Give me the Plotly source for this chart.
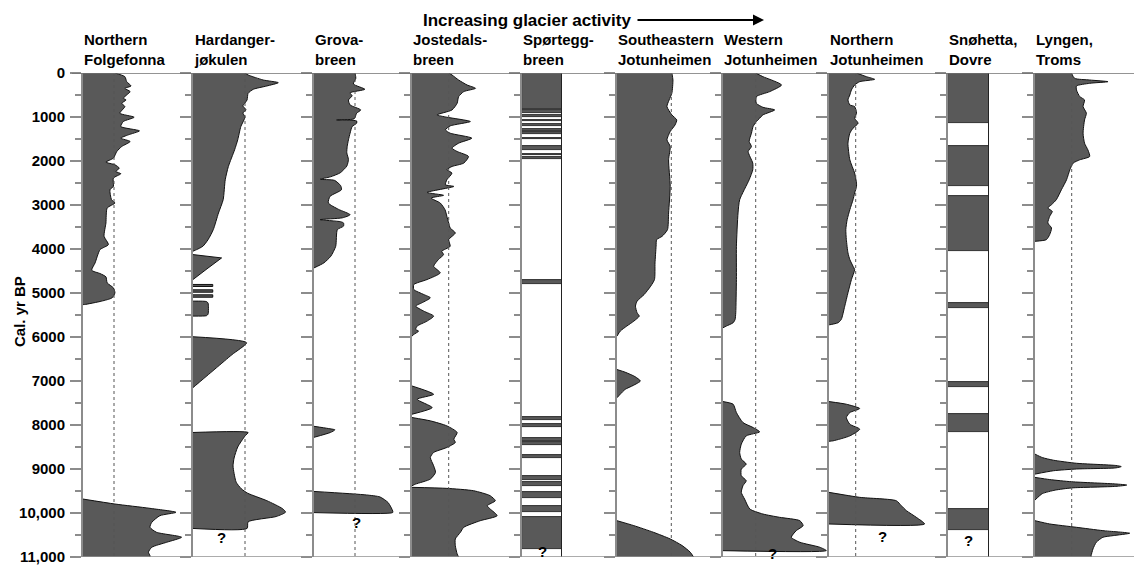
import plotly.graph_objects as go

# ---------------- data ----------------
tick_years = [0, 1000, 2000, 3000, 4000, 5000, 6000, 7000, 8000, 9000, 10000, 11000]
tick_text = ["0", "1000", "2000", "3000", "4000", "5000", "6000", "7000", "8000", "9000", "10,000", "11,000"]
minor_years = [500, 1500, 2500, 3500, 4500, 5500, 6500, 7500, 8500, 9500, 10500]

titles = ["Northern<br>Folgefonna", "Hardanger-<br>jøkulen", "Grova-<br>breen", "Jostedals-<br>breen",
          "Spørtegg-<br>breen", "Southeastern<br>Jotunheimen", "Western<br>Jotunheimen",
          "Northern<br>Jotunheimen", "Snøhetta,<br>Dovre", "Lyngen,<br>Troms"]

# glacier-activity curves (value 1 = dotted reference line); None separates blocks
folgefonna_yr = [0, 83, 197, 295, 348, 423, 499, 574, 612, 688, 763, 914, 1005, 1103, 1217, 1315, 1406, 1481, 1557, 1670,
                 1784, 1935, 2025, 2086, 2162, 2238, 2290, 2388, 2578, 2653, 2880, 2955, 3068, 3408, 3712, 3900, 4014, 4316, 4483, 4558,
                 4633, 4769, 4883, 4996, 5109, 5185, 5262, 5263, None,
                 9683, 9796, 9894, 9985, 10061, 10211, 10324, 10438, 10551, 10665, 10778, 10891, 10966, 11000]
folgefonna_val = [1.03, 1.35, 1.41, 1.55, 1.35, 1.52, 1.41, 1.30, 1.39, 1.25, 1.35, 1.19, 1.65, 1.30, 1.22, 1.82, 1.46, 1.22, 1.52, 1.25,
                  1.09, 0.98, 0.74, 1.03, 1.17, 1.06, 1.22, 0.98, 0.98, 0.87, 0.92, 1.03, 0.78, 0.74, 0.68, 0.82, 0.55, 0.39, 0.28, 0.55,
                  0.74, 0.78, 0.98, 1.03, 0.94, 0.60, 0.05, 0, None,
                  0, 1.03, 2.16, 3.0, 2.48, 2.22, 2.16, 2.37, 3.18, 2.70, 2.22, 2.11, 2.16, 2.16]

hardanger_yr = [0, 45, 159, 220, 295, 370, 461, 612, 680, 748, 839, 907, 998, 1066, 1218, 1519, 1746, 2125, 2426, 2880,
                3182, 3560, 3787, 3938, 4014, 4050, None,
                4127, 4203, 4450, 4694, None,
                4806, 4806, 4852, 4852, None,
                4927, 4927, 4982, 4982, None,
                5041, 5041, 5096, 5096, None,
                5185, 5195, 5230, 5480, 5515, 5525, None,
                5994, 6130, 6400, 6700, 7000, 7150, None,
                8170, 8171, 8250, 8500, 8750, 8930, 9100, 9300, 9450, 9550, 9720, 9900, 9980, 10080, 10200, 10350, 10351]
hardanger_val = [1.0, 1.06, 1.35, 1.64, 1.42, 1.16, 1.06, 1.04, 1.0, 0.96, 1.02, 0.96, 1.0, 0.98, 0.92, 0.86, 0.80, 0.68, 0.62, 0.58,
                 0.49, 0.39, 0.29, 0.19, 0.07, 0, None,
                 0, 0.55, 0.27, 0, None,
                 0, 0.38, 0.38, 0, None,
                 0, 0.38, 0.38, 0, None,
                 0, 0.38, 0.38, 0, None,
                 0, 0.26, 0.29, 0.29, 0.26, 0, None,
                 0, 1.03, 0.75, 0.45, 0.15, 0, None,
                 0, 1.06, 1.0, 0.86, 0.79, 0.77, 0.79, 0.83, 0.93, 1.05, 1.42, 1.72, 1.78, 1.6, 1.06, 1.04, 0]

grova_yr = [0, 120, 250, 370, 450, 520, 612, 726, 839, 914, 1040, 1066, 1090, 1141, 1217, 1368, 1519, 1670, 1814, 1965,
            2116, 2268, 2360, 2415, 2440, 2560, 2653, 2804, 2955, 3100, 3220, 3290, 3333, 3380, 3408, 3480, 3560, 3938, 4164, 4316,
            4429, None,
            8030, 8080, 8110, 8170, 8280, None,
            9510, 9590, 9636, 9765, 9954, 9990, 9991]
grova_val = [1.0, 1.02, 0.96, 1.24, 0.88, 0.93, 0.84, 0.88, 1.14, 1.04, 0.98, 0.55, 1.04, 1.04, 0.93, 0.88, 0.84, 0.81, 0.80, 0.84,
             0.80, 0.64, 0.40, 0.15, 0.5, 0.65, 0.67, 0.39, 0.35, 0.6, 0.88, 0.7, 0.15, 0.65, 0.72, 0.72, 0.57, 0.53, 0.41, 0.24,
             0, None,
             0, 0.35, 0.51, 0.4, 0, None,
             0, 1.28, 1.61, 1.81, 1.92, 1.92, 0]

jostedal_yr = [0, 45, 159, 272, 348, 423, 537, 688, 839, 952, 1005, 1103, 1202, 1293, 1368, 1481, 1595, 1708, 1784, 1897,
               2048, 2124, 2200, 2275, 2426, 2540, 2578, 2714, 2780, 2842, 2955, 3107, 3258, 3409, 3522, 3636, 3787, 3938, 4052, 4127,
               4240, 4392, 4542, 4694, 4807, 4921, 5034, 5109, 5223, 5298, 5412, 5525, 5639, 5752, 5828, 5866, 5941, 5979, None,
               7113, 7302, 7415, 7604, 7755, None,
               7830, 7906, 8020, 8170, 8322, 8397, 8511, 8624, 8737, 8927, 9077, 9229, 9342, 9380, None,
               9417, 9440, 9494, 9607, 9721, 9834, 9909, 10061, 10175, 10325, 10438, 10590, 10741, 10930, 11000]
jostedal_val = [1.0, 1.09, 1.27, 1.50, 1.73, 1.41, 1.27, 1.23, 1.09, 0.68, 0.95, 1.59, 1.04, 0.91, 1.04, 1.63, 1.27, 1.09, 1.23, 1.54,
                1.41, 1.09, 0.95, 1.09, 0.95, 0.91, 1.14, 0.41, 0.86, 0.52, 0.77, 0.90, 0.95, 1.0, 1.04, 1.18, 1.0, 1.04, 0.81, 0.86,
                0.72, 0.59, 0.77, 0.41, 0.05, 0.05, 0.32, 0.5, 0.27, 0.1, 0.32, 0.59, 0.41, 0.14, 0.1, 0.18, 0.05, 0, None,
                0, 0.59, 0.14, 0.55, 0, None,
                0, 0.5, 0.95, 1.23, 1.14, 1.18, 0.95, 0.59, 0.5, 0.59, 0.64, 0.5, 0.1, 0, None,
                0, 0.95, 1.68, 2.13, 2.27, 2.05, 2.13, 2.32, 1.86, 1.41, 1.32, 1.18, 1.18, 1.23, 1.27]

sejot_yr = [0, 159, 461, 612, 763, 952, 1066, 1179, 1330, 1519, 1670, 1973, 2578, 3181, 3560, 3712, 3787, 3938, 4316, 4694,
            4845, 5034, 5185, 5298, 5449, 5525, 5639, 5752, 5866, 5979, None,
            6740, 6800, 6900, 7000, 7100, 7190, 7300, 7380, None,
            10175, 10287, 10438, 10590, 10741, 10892, 11000]
sejot_val = [1.01, 1.03, 1.01, 0.96, 0.92, 1.01, 1.10, 1.07, 0.98, 0.92, 0.98, 0.95, 0.98, 0.95, 0.93, 0.83, 0.73, 0.72, 0.70, 0.69,
             0.62, 0.50, 0.37, 0.34, 0.37, 0.41, 0.31, 0.18, 0.06, 0, None,
             0, 0.15, 0.33, 0.43, 0.3, 0.15, 0.06, 0, None,
             0, 0.31, 0.67, 0.98, 1.20, 1.35, 1.41]

wjot_yr = [0, 83, 272, 423, 537, 688, 779, 839, 952, 1028, 1103, 1217, 1368, 1557, 1670, 1784, 2048, 2200, 2426, 2880,
           3181, 3938, 4694, 5449, 5601, 5676, 5752, 5790, None,
           7468, 7528, 7717, 7944, 8057, 8156, 8247, 8435, 8624, 8775, 8889, 9002, 9154, 9267, 9380, 9531, 9683, 9909, 10023, 10098,
           10175, 10287, 10401, 10552, 10665, 10778, 10855, 10856]
wjot_val = [1.0, 1.22, 1.79, 1.43, 1.02, 1.02, 1.22, 1.58, 1.22, 1.12, 1.02, 0.92, 0.87, 0.80, 0.87, 0.77, 0.91, 0.91, 0.80, 0.51,
            0.46, 0.41, 0.41, 0.39, 0.37, 0.31, 0.10, 0, None,
            0, 0.31, 0.41, 0.61, 0.92, 1.12, 0.71, 0.56, 0.51, 0.56, 0.71, 0.56, 0.56, 0.71, 0.61, 0.56, 0.66, 0.82, 1.22, 1.73,
            2.35, 2.45, 2.24, 2.09, 2.35, 2.96, 3.16, 0]

njot_yr = [0, 83, 144, 197, 272, 385, 499, 612, 726, 763, 914, 1028, 1141, 1255, 1368, 1595, 1973, 2275, 2502, 2578,
           2729, 2880, 3107, 3333, 3560, 3787, 4088, 4240, 4392, 4467, 4694, 4996, 5298, 5601, 5676, 5721, 5722, None,
           7468, 7528, 7626, 7717, 7830, 7982, 8095, 8247, 8360, 8370, None,
           9531, 9644, 9721, 9834, 9947, 10098, 10249, 10250]
njot_val = [1.03, 1.40, 1.71, 1.15, 0.96, 0.84, 0.78, 0.71, 0.78, 0.96, 1.03, 0.96, 1.09, 0.90, 0.78, 0.71, 0.78, 0.96, 1.03, 1.03,
            0.96, 0.90, 0.78, 0.68, 0.63, 0.65, 0.71, 0.78, 0.90, 0.96, 0.84, 0.71, 0.59, 0.46, 0.34, 0.03, 0, None,
            0, 0.65, 1.15, 0.78, 0.65, 0.78, 1.15, 0.78, 0.15, 0, None,
            0, 1.15, 2.52, 2.71, 2.90, 3.27, 3.58, 0]

lyngen_yr = [0, 121, 159, 197, 234, 295, 385, 537, 612, 763, 914, 1066, 1368, 1595, 1746, 1897, 1973, 2048, 2200, 2426,
             2653, 2880, 2993, 3068, 3145, 3258, 3408, 3522, 3673, 3787, 3825, None,
             8662, 8740, 8800, 8870, 8920, 8945, 8975, 9000, 9040, 9116, None,
             9191, 9240, 9290, 9340, 9365, 9395, 9430, 9480, 9560, 9705, None,
             10175, 10249, 10325, 10401, 10460, 10514, 10552, 10665, 10816, 10968, 11000]
lyngen_val = [0.99, 1.08, 1.49, 1.99, 1.49, 1.13, 1.13, 1.22, 1.35, 1.31, 1.40, 1.35, 1.31, 1.35, 1.44, 1.49, 1.22, 1.04, 0.95, 0.86,
              0.72, 0.58, 0.45, 0.35, 0.47, 0.40, 0.35, 0.45, 0.40, 0.31, 0, None,
              0, 0.2, 0.5, 1.13, 2.2, 2.35, 2.2, 1.13, 0.5, 0, None,
              0, 0.4, 1.0, 2.2, 2.5, 2.2, 1.0, 0.55, 0.2, 0, None,
              0, 0.40, 1.13, 1.85, 2.58, 2.13, 1.85, 1.67, 1.58, 1.53, 1.53]

# banded records (glacier present intervals, yr BP)
sporteggbreen_start = [0, 850, 965, 1060, 1160, 1265, 1350, 1470, 1670, 1830, 1915, 4700,
                       7807, 7982, 8284, 8397, 8685, 9154, 9304, 9517, 9848, 10098]
sporteggbreen_end = [820, 900, 1000, 1100, 1215, 1310, 1395, 1510, 1745, 1870, 1950, 4790,
                     7884, 8034, 8361, 8458, 8760, 9245, 9395, 9667, 9971, 10816]
snohetta_start = [0, 1670, 2789, 5238, 7014, 7755, 9909]
snohetta_end = [1141, 2578, 4052, 5351, 7127, 8148, 10385]

# question marks: panel index, x value, year
question_panel = [2, 3, 5, 7, 8, 9]
question_x = [0.55, 1.04, 0.5, 1.5, 2.0, 0.5]
question_yr = [10551, 10220, 10880, 10920, 10524, 10628]

# ---------------- layout / styling ----------------
W, H = 1142, 566
OFF = 8          # the page body adds an 8 px margin; reference pixel positions are shifted by it
TOP_PX, BOT_PX = 73, 557
FILL = "#595959"
EDGE = "#111111"
AXC = "#8c8c8c"
FONT = "Liberation Sans, Arial, sans-serif"


def px_x(px):
    return (px - OFF) / W


def px_y(py):
    return 1 - (py - OFF) / H


# panel geometry: (left px, right px, px per unit or None for banded column)
geom = [(83, 192, 31.0), (193, 313, 52.0), (314, 411, 41.0), (412, 521, 36.7), (522, 562, None),
        (617, 722, 54.3), (723, 828, 32.7), (829, 947, 26.7), (948, 989, None), (1035, 1142, 36.7)]

curves = {1: (folgefonna_yr, folgefonna_val), 2: (hardanger_yr, hardanger_val), 3: (grova_yr, grova_val),
          4: (jostedal_yr, jostedal_val), 6: (sejot_yr, sejot_val), 7: (wjot_yr, wjot_val),
          8: (njot_yr, njot_val), 10: (lyngen_yr, lyngen_val)}
bands = {5: (sporteggbreen_start, sporteggbreen_end), 9: (snohetta_start, snohetta_end)}


def split_blocks(yr, val):
    assert len(yr) == len(val), (len(yr), len(val))
    out, cy, cv = [], [], []
    for a, b in zip(yr, val):
        if a is None:
            out.append((cy, cv))
            cy, cv = [], []
        else:
            cy.append(a)
            cv.append(b)
    out.append((cy, cv))
    return out


fig = go.Figure()


def ax(i, kind):
    return ("x" if i == 1 else f"x{i}") if kind == "x" else ("y" if i == 1 else f"y{i}")


for i, (left, right, unit) in enumerate(geom, start=1):
    xa, ya = ax(i, "x"), ax(i, "y")
    if i in curves:
        for by, bv in split_blocks(*curves[i]):
            smooth = len(by) > 4
            fig.add_trace(go.Scatter(x=bv, y=by, mode="lines", fill="tozerox", fillcolor=FILL,
                                     line=dict(color=EDGE, width=1, shape="spline" if smooth else "linear",
                                               smoothing=0.6 if smooth else None),
                                     xaxis=xa, yaxis=ya, hoverinfo="skip", showlegend=False))
        fig.add_trace(go.Scatter(x=[1, 1], y=[0, 11000], mode="lines",
                                 line=dict(color="#555555", width=1, dash="dot"),
                                 xaxis=xa, yaxis=ya, hoverinfo="skip", showlegend=False))
    else:
        s, e = bands[i]
        fig.add_trace(go.Bar(orientation="h", y=[(a + b) / 2 for a, b in zip(s, e)],
                             x=[1] * len(s), width=[b - a for a, b in zip(s, e)], base=0,
                             marker=dict(color=FILL, line=dict(color=EDGE, width=0.8)),
                             xaxis=xa, yaxis=ya, hoverinfo="skip", showlegend=False))
        fig.add_trace(go.Scatter(x=[1, 1], y=[0, 11000], mode="lines",
                                 line=dict(color="#222222", width=2),
                                 xaxis=xa, yaxis=ya, hoverinfo="skip", showlegend=False))

layout = dict(width=W, height=H, margin=dict(l=0, r=0, t=0, b=0, pad=0, autoexpand=False),
              paper_bgcolor="white", plot_bgcolor="rgba(0,0,0,0)", showlegend=False,
              hovermode=False, bargap=0)
ydom = [px_y(BOT_PX), px_y(TOP_PX)]
for i, (left, right, unit) in enumerate(geom, start=1):
    xr = [0, 1] if unit is None else [0, (right - left) / unit]
    xk = "xaxis" if i == 1 else f"xaxis{i}"
    yk = "yaxis" if i == 1 else f"yaxis{i}"
    layout[xk] = dict(domain=[px_x(left), min(px_x(right), 1.0)], range=xr, visible=False, anchor=ax(i, "y"),
                      fixedrange=True, automargin=False)
    layout[yk] = dict(domain=ydom, range=[11000, 0], anchor=ax(i, "x"), showline=True, linecolor=AXC, linewidth=2,
                      ticks="outside", ticklen=11, tickwidth=2, tickcolor=AXC, automargin=False,
                      tickmode="array", tickvals=tick_years, ticktext=tick_text, ticklabelstandoff=2,
                      showticklabels=(i == 1), showgrid=False, zeroline=False, fixedrange=True,
                      tickfont=dict(family=FONT, size=15, color="black", weight="bold"),
                      minor=dict(ticks="outside", ticklen=6, tickwidth=2, tickcolor=AXC,
                                 tickmode="array", tickvals=minor_years, showgrid=False))
fig.update_layout(**layout)

# frame lines at top and bottom
fig.add_shape(type="line", xref="paper", yref="y", x0=px_x(72), x1=1, y0=0, y1=0, line=dict(color="#707070", width=1.5))
fig.add_shape(type="line", xref="paper", yref="y", x0=px_x(76), x1=1, y0=11000, y1=11000,
              line=dict(color="#909090", width=1.5))

# titles
for i, (left, right, unit) in enumerate(geom, start=1):
    fig.add_annotation(text=titles[i - 1], xref="paper", yref="paper", x=px_x(left - 1), y=px_y(70),
                       xanchor="left", yanchor="bottom", align="left", showarrow=False,
                       font=dict(family=FONT, size=15, color="black", weight="bold"))

# question marks
for p, qx, qy in zip(question_panel, question_x, question_yr):
    fig.add_annotation(text="?", xref=ax(p, "x"), yref=ax(p, "y"), x=qx, y=qy, showarrow=False,
                       font=dict(family=FONT, size=15, color="black", weight="bold"))

fig.add_annotation(text="Cal. yr BP", xref="paper", yref="paper", x=px_x(19), y=px_y(312), textangle=-90,
                   xanchor="center", yanchor="middle",
                   showarrow=False, font=dict(family=FONT, size=15, color="black", weight="bold"))
fig.add_annotation(text="Increasing glacier activity", xref="paper", yref="paper", x=px_x(527), y=px_y(20),
                   xanchor="center", yanchor="middle", showarrow=False,
                   font=dict(family=FONT, size=17, color="black", weight="bold"))
fig.add_annotation(text="", xref="paper", yref="paper", x=px_x(764), y=px_y(20), ax=-128, ay=0,
                   showarrow=True, arrowhead=2, arrowsize=1, arrowwidth=2.2, arrowcolor="black", standoff=0)

fig.write_html("out.html")
